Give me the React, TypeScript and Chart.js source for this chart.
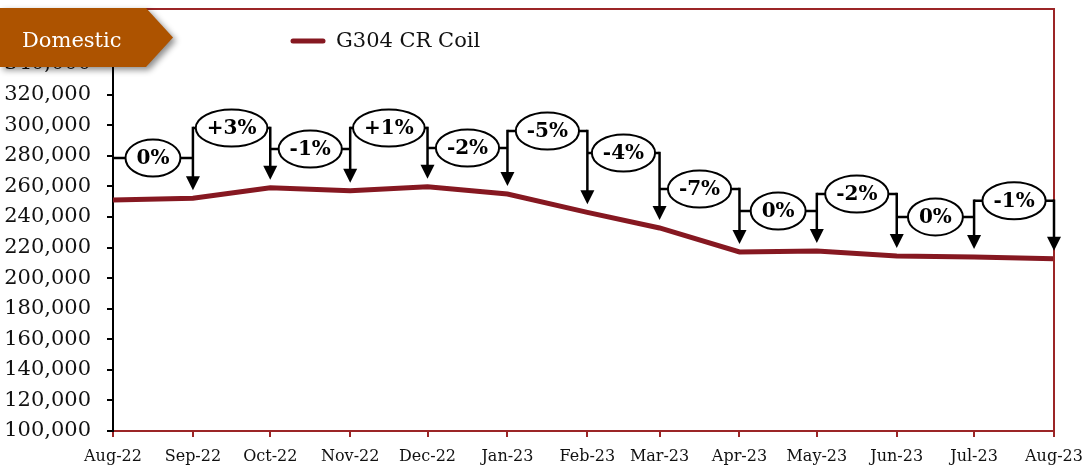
import React, { useEffect, useRef } from 'react';
import { Chart, registerables } from 'chart.js';

Chart.register(...registerables);

// ---- data ----
const monthLabels = ['Aug-22', 'Sep-22', 'Oct-22', 'Nov-22', 'Dec-22', 'Jan-23', 'Feb-23', 'Mar-23', 'Apr-23', 'May-23', 'Jun-23', 'Jul-23', 'Aug-23'];
// days elapsed since 1 Aug 2022 for each month start
const monthDays = [0, 31, 61, 92, 122, 153, 184, 212, 243, 273, 304, 334, 365];
const prices = [251100, 252200, 259100, 257200, 259800, 255000, 243000, 232800, 217100, 217800, 214500, 213800, 212600];
const changeLabels = ['0%', '+3%', '-1%', '+1%', '-2%', '-5%', '-4%', '-7%', '0%', '-2%', '0%', '-1%'];
// height (in price units) at which each change callout sits
const calloutLevels = [278500, 298200, 284400, 298200, 285100, 296200, 281800, 258300, 243900, 255000, 240000, 250600];
const yTickValues = [100000, 120000, 140000, 160000, 180000, 200000, 220000, 240000, 260000, 280000, 300000, 320000, 340000, 360000];
const seriesName = 'G304 CR Coil';
const bannerText = 'Domestic';

const LINE_COLOR = '#861821';
const FRAME_COLOR = '#9B2526';
const BANNER_COLOR = '#AD5300';
const SERIF = '"DejaVu Serif", serif';

const overlayPlugin = {
  id: 'overlay',
  afterDatasetsDraw(chart: any) {
    const { ctx, chartArea, scales } = chart;
    const x = scales.x;
    const y = scales.y;
    ctx.save();
    // red frame (top + right)
    ctx.strokeStyle = FRAME_COLOR;
    ctx.lineWidth = 2;
    ctx.beginPath();
    ctx.moveTo(chartArea.left, chartArea.top);
    ctx.lineTo(chartArea.right, chartArea.top);
    ctx.lineTo(chartArea.right, chartArea.bottom);
    ctx.stroke();

    // brackets and arrows
    ctx.strokeStyle = '#000';
    ctx.fillStyle = '#000';
    ctx.lineWidth = 2.5;
    const n = changeLabels.length;
    for (let i = 0; i < n; i++) {
      const x0 = x.getPixelForValue(monthDays[i]);
      const x1 = x.getPixelForValue(monthDays[i + 1]);
      const h = y.getPixelForValue(calloutLevels[i]);
      ctx.beginPath();
      ctx.moveTo(x0, h);
      ctx.lineTo(x1, h);
      ctx.stroke();
      const hNext = i + 1 < n ? y.getPixelForValue(calloutLevels[i + 1]) : h;
      const top = Math.min(h, hNext);
      const tip = y.getPixelForValue(prices[i + 1]) - 8;
      ctx.beginPath();
      ctx.moveTo(x1, top - 1.25);
      ctx.lineTo(x1, tip - 12);
      ctx.stroke();
      ctx.beginPath();
      ctx.moveTo(x1 - 7, tip - 14);
      ctx.lineTo(x1 + 7, tip - 14);
      ctx.lineTo(x1, tip);
      ctx.closePath();
      ctx.fill();
    }
    // ellipses with labels
    ctx.font = `bold 20px ${SERIF}`;
    ctx.textAlign = 'center';
    ctx.textBaseline = 'middle';
    for (let i = 0; i < n; i++) {
      const x0 = x.getPixelForValue(monthDays[i]);
      const x1 = x.getPixelForValue(monthDays[i + 1]);
      const cx = (x0 + x1) / 2;
      const cy = y.getPixelForValue(calloutLevels[i]);
      const tw = ctx.measureText(changeLabels[i]).width;
      ctx.beginPath();
      ctx.ellipse(cx, cy, (tw + 22) / 2, 18.5, 0, 0, Math.PI * 2);
      ctx.fillStyle = '#fff';
      ctx.fill();
      ctx.lineWidth = 2;
      ctx.strokeStyle = '#000';
      ctx.stroke();
      ctx.fillStyle = '#000';
      ctx.fillText(changeLabels[i], cx, cy + 1);
    }
    ctx.restore();
  },
  afterDraw(chart: any) {
    const { ctx } = chart;
    ctx.save();
    // legend
    ctx.strokeStyle = LINE_COLOR;
    ctx.lineWidth = 5;
    ctx.lineCap = 'round';
    ctx.beginPath();
    ctx.moveTo(293, 41);
    ctx.lineTo(323, 41);
    ctx.stroke();
    ctx.fillStyle = '#111';
    ctx.font = `21px ${SERIF}`;
    ctx.textAlign = 'left';
    ctx.textBaseline = 'middle';
    ctx.fillText(seriesName, 336, 42);

    // banner
    ctx.save();
    ctx.shadowColor = 'rgba(0,0,0,0.45)';
    ctx.shadowBlur = 6;
    ctx.shadowOffsetX = 3;
    ctx.shadowOffsetY = 3;
    ctx.fillStyle = BANNER_COLOR;
    ctx.beginPath();
    ctx.moveTo(0, 8);
    ctx.lineTo(146, 8);
    ctx.lineTo(173, 37.5);
    ctx.lineTo(146, 67);
    ctx.lineTo(0, 67);
    ctx.closePath();
    ctx.fill();
    ctx.restore();
    ctx.fillStyle = '#fff';
    ctx.font = `21px ${SERIF}`;
    ctx.textAlign = 'left';
    ctx.textBaseline = 'alphabetic';
    ctx.fillText(bannerText, 22, 47);
    ctx.restore();
  },
};

export default function App() {
  const canvasRef = useRef<HTMLCanvasElement | null>(null);

  useEffect(() => {
    const canvas = canvasRef.current;
    if (!canvas) return;
    const points = prices.map((p, i) => ({ x: monthDays[i], y: p }));
    const chart = new Chart(canvas, {
      type: 'line',
      data: {
        datasets: [
          {
            label: seriesName,
            data: points,
            borderColor: LINE_COLOR,
            borderWidth: 5,
            pointRadius: 0,
            tension: 0,
            fill: false,
          },
        ],
      },
      options: {
        responsive: false,
        animation: false,
        devicePixelRatio: 1,
        layout: { padding: { top: 9, right: 28, bottom: 0, left: 0 } },
        plugins: {
          legend: { display: false },
          tooltip: { enabled: false },
        },
        scales: {
          x: {
            type: 'linear',
            min: monthDays[0],
            max: monthDays[monthDays.length - 1],
            afterBuildTicks: (scale: any) => {
              scale.ticks = monthDays.map((v) => ({ value: v }));
            },
            afterFit: (scale: any) => {
              scale.height = 37;
              scale.paddingLeft = 0;
              scale.paddingRight = 0;
            },
            border: { display: true, color: FRAME_COLOR, width: 2 },
            grid: { display: true, drawOnChartArea: false, drawTicks: true, tickLength: 6, color: FRAME_COLOR, lineWidth: 2 },
            ticks: {
              autoSkip: false,
              maxRotation: 0,
              minRotation: 0,
              padding: 10,
              color: '#111',
              font: { family: SERIF, size: 16 },
              callback: (value: any) => {
                const idx = monthDays.indexOf(Number(value));
                return idx >= 0 ? monthLabels[idx] : '';
              },
            },
          },
          y: {
            type: 'linear',
            min: 100000,
            max: 376000,
            afterBuildTicks: (scale: any) => {
              scale.ticks = yTickValues.map((v) => ({ value: v }));
            },
            afterFit: (scale: any) => {
              scale.width = 113;
              scale.paddingTop = 0;
              scale.paddingBottom = 0;
            },
            border: { display: true, color: '#000', width: 2 },
            grid: { display: true, drawOnChartArea: false, drawTicks: true, tickLength: 6, color: '#000', lineWidth: 2 },
            ticks: {
              padding: 16,
              color: '#111',
              font: { family: SERIF, size: 21 },
              callback: (value: any) => Number(value).toLocaleString('en-US'),
            },
          },
        },
      },
      plugins: [overlayPlugin],
    } as any);
    return () => chart.destroy();
  }, []);

  return (
    <div style={{ position: 'fixed', left: 0, top: 0, width: 1082, height: 468, background: '#fff' }}>
      <canvas ref={canvasRef} width={1082} height={468} style={{ display: 'block', width: 1082, height: 468 }} />
    </div>
  );
}
